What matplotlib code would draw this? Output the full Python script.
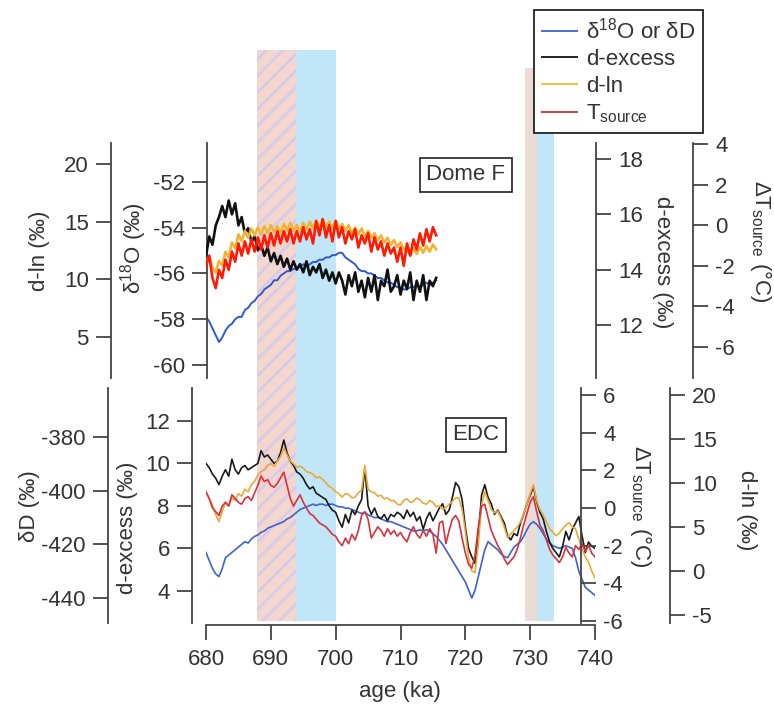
import matplotlib
matplotlib.use("Agg")
import matplotlib.pyplot as plt
from matplotlib.lines import Line2D

plt.rcParams['font.family'] = ['Liberation Sans', 'DejaVu Sans']
plt.rcParams['mathtext.fontset'] = 'custom'
plt.rcParams['mathtext.rm'] = 'Liberation Sans'
plt.rcParams['mathtext.it'] = 'Liberation Sans'
plt.rcParams['axes.unicode_minus'] = False
plt.rcParams['hatch.linewidth'] = 2.0

# ---- Dome F (upper panel), ages in ka
domef_age = [680.0, 680.5, 681.0, 681.5, 682.0, 682.5, 683.0, 683.5, 684.0, 684.5,
             685.0, 685.5, 686.0, 686.5, 687.0, 687.5, 688.0, 688.5, 689.0, 689.5,
             690.0, 690.5, 691.0, 691.5, 692.0, 692.5, 693.0, 693.5, 694.0, 694.5,
             695.0, 695.5, 696.0, 696.5, 697.0, 697.5, 698.0, 698.5, 699.0, 699.5,
             700.0, 700.5, 701.0, 701.5, 702.0, 702.5, 703.0, 703.5, 704.0, 704.5,
             705.0, 705.5, 706.0, 706.5, 707.0, 707.5, 708.0, 708.5, 709.0, 709.5,
             710.0, 710.5, 711.0, 711.5, 712.0, 712.5, 713.0, 713.5, 714.0, 714.5,
             715.0, 715.5]
domef_d18o = [-57.9, -58.1, -58.4, -58.7, -59.0, -58.8, -58.5, -58.3, -58.2, -58.0,
              -57.9, -57.9, -57.6, -57.5, -57.3, -57.2, -57.0, -56.9, -56.7, -56.6,
              -56.5, -56.3, -56.3, -56.1, -56.0, -55.9, -55.9, -55.8, -55.8, -55.7,
              -55.6, -55.7, -55.6, -55.5, -55.5, -55.4, -55.4, -55.3, -55.3, -55.2,
              -55.2, -55.1, -55.1, -55.3, -55.4, -55.5, -55.6, -55.8, -55.9, -55.9,
              -56.0, -56.0, -56.1, -56.2, -56.2, -56.3, -56.4, -56.4, -56.5, -56.6,
              -56.6, -56.7, -56.7, -56.6, -56.6, -56.5, -56.6, -56.5, -56.4, -56.5,
              -56.4, -56.3]
domef_dexcess = [14.5, 15.2, 14.9, 15.6, 15.9, 16.3, 15.9, 16.5, 16.0, 16.4,
                 15.6, 15.9, 15.3, 15.5, 15.0, 15.2, 14.7, 14.9, 14.5, 14.8,
                 14.3, 14.6, 14.2, 14.5, 14.1, 14.4, 14.0, 14.3, 14.0, 14.2,
                 13.9, 14.3, 13.8, 14.1, 13.9, 14.2, 13.7, 14.0, 13.6, 13.9,
                 13.5, 13.9, 13.6, 13.1, 13.8, 13.4, 13.9, 13.2, 13.6, 13.0,
                 13.7, 13.2, 13.8, 12.9, 13.6, 13.4, 14.0, 13.2, 13.4, 13.8,
                 13.1, 13.6, 13.3, 13.9, 12.9, 13.6, 13.2, 13.8, 12.9, 13.6,
                 13.4, 13.7]
domef_dln = [11.3, 12.0, 11.0, 10.6, 11.6, 11.2, 12.4, 11.9, 13.2, 12.7,
             13.9, 13.3, 14.2, 13.6, 14.4, 13.8, 14.5, 13.9, 14.6, 14.0,
             14.7, 14.1, 14.6, 14.0, 14.8, 14.2, 14.9, 14.2, 14.7, 14.1,
             14.9, 14.3, 15.0, 14.4, 15.1, 14.5, 15.2, 14.5, 15.0, 14.4,
             15.1, 14.4, 14.8, 14.2, 14.7, 14.0, 14.5, 13.9, 14.4, 13.7,
             14.2, 13.6, 14.0, 13.4, 13.8, 13.2, 13.6, 13.0, 13.4, 12.8,
             13.2, 12.6, 12.6, 12.1, 12.7, 12.2, 12.8, 12.3, 12.9, 12.4,
             13.0, 12.6]
domef_tsource = [-2.0, -1.5, -2.6, -3.1, -2.2, -2.6, -1.7, -2.2, -1.3, -1.8,
                 -0.9, -1.5, -0.8, -1.4, -0.7, -1.3, -0.6, -1.2, -0.5, -1.1,
                 -0.4, -1.0, -0.3, -0.9, -0.3, -0.8, -0.2, -0.9, -0.3, -0.8,
                 -0.1, -0.7, -0.2, -0.9, 0.2, -0.5, 0.3, -0.6, 0.0, -0.8,
                 0.2, -0.6, -0.1, -0.9, -0.3, -0.7, -0.2, -1.1, -0.5, -0.9,
                 -0.4, -1.3, -0.6, -1.2, -0.8, -1.5, -0.9, -1.4, -1.1, -1.8,
                 -1.1, -2.0, -0.9, -1.5, -0.7, -1.2, -0.4, -1.0, -0.2, -0.8,
                 -0.1, -0.5]

# ---- EDC (lower panel)
edc_age = [680.0, 680.5, 681.0, 681.5, 682.0, 682.5, 683.0, 683.5, 684.0, 684.5,
           685.0, 685.5, 686.0, 686.5, 687.0, 687.5, 688.0, 688.5, 689.0, 689.5,
           690.0, 690.5, 691.0, 691.5, 692.0, 692.5, 693.0, 693.5, 694.0, 694.5,
           695.0, 695.5, 696.0, 696.5, 697.0, 697.5, 698.0, 698.5, 699.0, 699.5,
           700.0, 700.5, 701.0, 701.5, 702.0, 702.5, 703.0, 703.5, 704.0, 704.5,
           705.0, 705.5, 706.0, 706.5, 707.0, 707.5, 708.0, 708.5, 709.0, 709.5,
           710.0, 710.5, 711.0, 711.5, 712.0, 712.5, 713.0, 713.5, 714.0, 714.5,
           715.0, 715.5, 716.0, 716.5, 717.0, 717.5, 718.0, 718.5, 719.0, 719.5,
           720.0, 720.5, 721.0, 721.5, 722.0, 722.5, 723.0, 723.5, 724.0, 724.5,
           725.0, 725.5, 726.0, 726.5, 727.0, 727.5, 728.0, 728.5, 729.0, 729.5,
           730.0, 730.5, 731.0, 731.5, 732.0, 732.5, 733.0, 733.5, 734.0, 734.5,
           735.0, 735.5, 736.0, 736.5, 737.0, 737.5, 738.0, 738.5, 739.0, 739.5,
           740.0]
edc_dd = [-423, -426, -429, -431, -432, -429, -425, -424, -423, -422,
          -421, -420, -419, -419.5, -418, -417, -416.5, -415.5, -415, -414,
          -413.5, -413, -412.5, -412, -411.5, -410.5, -410, -409, -408, -407,
          -406.5, -406, -405.5, -405, -405.5, -405, -405, -405.5, -405, -405,
          -405.5, -406, -406, -406.5, -406.5, -407, -407.5, -408, -408.5, -408,
          -409, -409.5, -410, -410, -410.5, -411, -411.5, -411.5, -412, -412.5,
          -413, -413.5, -414, -414.5, -415, -415, -414.5, -415, -414.5, -415,
          -416, -417, -418.5, -420, -422, -424, -426, -428, -430, -432,
          -434, -437, -440, -437, -432, -427, -422, -419, -420, -421,
          -422, -423.5, -424.5, -425, -423, -421, -420, -419, -417, -414.5,
          -412.5, -411.5, -412.5, -414, -416, -418, -419.5, -420.5, -421, -421.5,
          -421, -420.5, -421, -421.5, -425, -430, -433, -436, -437, -438,
          -439]
edc_dexcess = [10.0, 9.8, 9.5, 9.3, 9.0, 9.4, 9.7, 9.4, 10.2, 9.7,
               9.5, 9.8, 9.9, 9.7, 9.8, 9.9, 10.0, 10.6, 10.3, 10.4,
               10.2, 10.0, 10.1, 10.5, 11.1, 10.5, 10.1, 9.9, 9.6, 9.5,
               9.3, 9.0, 8.8, 8.9, 8.6, 8.5, 8.4, 8.3, 8.0, 7.8,
               7.7, 7.3, 7.0, 7.6, 7.2, 7.8, 7.6, 8.0, 8.3, 9.8,
               8.0, 7.6, 7.9, 7.5, 7.4, 7.6, 7.3, 7.6, 7.5, 7.7,
               7.6, 7.4, 7.8, 7.5, 7.7, 7.3, 7.5, 6.9, 7.4, 7.7,
               7.3, 7.6, 7.9, 8.1, 7.6, 7.8, 8.4, 9.1, 8.9, 8.3,
               7.0, 6.0, 5.6, 5.3, 6.5, 8.5, 9.0, 8.4, 8.1, 7.6,
               7.8, 7.5, 7.2, 6.6, 6.4, 6.7, 6.6, 7.2, 7.6, 8.1,
               8.5, 8.9, 8.2, 7.7, 7.4, 6.8, 6.3, 6.0, 5.8, 5.6,
               6.1, 6.8, 6.4, 6.9, 7.2, 7.5, 6.6, 5.8, 6.3, 6.1,
               6.0]
edc_dln = [9.0, 8.2, 7.5, 6.4, 5.6, 6.8, 7.8, 7.4, 8.3, 8.0,
           8.8, 8.5, 9.3, 9.0, 9.8, 10.2, 10.9, 11.3, 11.5, 12.0,
           12.2, 11.9, 12.5, 13.0, 14.0, 13.2, 12.5, 12.2, 11.8, 11.9,
           11.7, 11.3, 11.2, 11.0, 10.6, 10.7, 10.4, 10.0, 9.6, 9.4,
           9.0, 8.8, 8.4, 8.8, 8.7, 8.3, 8.4, 8.9, 9.2, 12.0,
           9.3, 9.0, 8.9, 8.5, 8.6, 8.2, 8.3, 8.0, 8.0, 7.6,
           7.5, 8.0, 8.2, 7.8, 7.9, 8.3, 8.1, 7.7, 7.6, 8.0,
           7.8, 7.3, 7.4, 7.0, 7.2, 7.6, 7.9, 8.3, 8.3, 7.0,
           4.5, 1.5, 0.0, -0.2, 3.0, 7.5, 9.0, 8.0, 7.0, 6.6,
           6.8, 6.0, 5.0, 3.8, 4.2, 4.6, 5.0, 5.6, 6.5, 7.6,
           8.8, 9.8, 8.0, 7.0, 6.4, 5.6, 4.8, 4.4, 4.0, 4.3,
           4.8, 5.2, 5.5, 5.0, 4.8, 3.6, 2.5, 1.6, 1.0, 0.0,
           -0.8]
edc_tsource = [0.85, 0.5, 0.0, -0.2, -0.4, 0.1, 0.3, 0.1, 0.7, 0.5,
               0.3, 0.2, 0.5, 0.6, 0.4, 0.8, 1.2, 1.7, 1.4, 1.5,
               1.2, 1.1, 1.3, 1.6, 1.9, 1.2, 0.5, 0.1, 0.4, 0.7,
               0.3, 0.0, -0.3, -0.4, -0.6, -0.8, -0.9, -1.0, -1.2, -1.4,
               -1.5, -1.8, -2.0, -1.6, -1.9, -1.4, -1.7, -1.2, -0.4, -0.2,
               -0.6, -1.6, -1.3, -1.0, -1.2, -1.5, -1.1, -1.4, -1.2, -1.5,
               -1.3, -1.6, -1.8, -1.3, -1.0, -1.4, -1.6, -1.2, -1.5, -1.1,
               -1.4, -2.4, -0.8, -0.7, -1.9, -1.2, -0.6, -0.4, -0.7, -1.6,
               -2.4, -3.0, -3.2, -2.5, -1.0, 0.1, 0.2, -0.5, -1.2, -1.6,
               -2.0, -2.3, -2.7, -3.0, -2.8, -2.6, -2.2, -1.6, -0.9, -0.3,
               0.3, 0.6, -0.2, -0.9, -1.2, -1.7, -2.2, -2.5, -2.7, -2.9,
               -2.6, -2.1, -2.4, -2.6, -2.0, -2.2, -1.9, -2.3, -2.0, -2.4,
               -2.6]

# shaded intervals (ka)
hatch_band = (687.8, 693.9)
blue_band_1 = (693.9, 700.1)
tan_band = (729.2, 731.0)
blue_band_2 = (731.0, 733.6)

age_ticks = [680, 690, 700, 710, 720, 730, 740]

W, H = 774, 705
FS = 16
AXC = '#444444'
X0, X1 = 206, 595

BLUE = '#2f5bd0'
BLACK = '#111111'
ORANGE = '#f2b335'
RED_TOP = '#ff1a00'
RED = '#d8323f'

fig = plt.figure(figsize=(W / 100, H / 100), dpi=100)


def rect(top, bottom):
    return [X0 / W, 1 - bottom / H, (X1 - X0) / W, (bottom - top) / H]


def yaxis(r, ylim, spine_x, side, ticks, z):
    ax = fig.add_axes(r, zorder=z)
    ax.patch.set_visible(False)
    ax.set_xlim(680, 740)
    ax.set_ylim(*ylim)
    for s in ax.spines.values():
        s.set_visible(False)
    sp = ax.spines[side]
    sp.set_visible(True)
    sp.set_position(('axes', (spine_x - X0) / (X1 - X0)))
    sp.set_color(AXC)
    sp.set_linewidth(1.3)
    ax.yaxis.set_ticks_position(side)
    ax.set_yticks(ticks)
    ax.tick_params(axis='y', direction='out', length=11, width=1.3, color=AXC,
                   labelsize=FS, labelcolor='#333333', pad=5)
    ax.tick_params(axis='x', bottom=False, labelbottom=False)
    return ax


# background shading
bg = fig.add_axes([X0 / W, 0, (X1 - X0) / W, 1], zorder=0)
bg.set_xlim(680, 740)
bg.axis('off')
y_lo, y_hi, y_hi2 = 1 - 621 / H, 1 - 50 / H, 1 - 68 / H
bg.axvspan(*hatch_band, y_lo, y_hi, facecolor='#f4d6ce', edgecolor='#d3cdea',
           hatch='//', linewidth=0)
bg.axvspan(*blue_band_1, y_lo, y_hi, facecolor='#c0e6f8', linewidth=0)
bg.axvspan(*tan_band, y_lo, y_hi2, facecolor='#eadbd5', linewidth=0)
bg.axvspan(*blue_band_2, y_lo, y_hi2, facecolor='#c0e6f8', linewidth=0)

# upper panel: Dome F
top_r = rect(143, 378)
a1 = yaxis(top_r, (-60.57, -50.30), 207, 'left', [-60, -58, -56, -54, -52], 1)
a1.plot(domef_age, domef_d18o, color=BLUE, lw=1.4)
a2 = yaxis(top_r, (10.08, 18.58), 596, 'right', [12, 14, 16, 18], 2)
a2.plot(domef_age, domef_dexcess, color=BLACK, lw=1.9)
a3 = yaxis(top_r, (1.44, 21.82), 111, 'left', [5, 10, 15, 20], 3)
a3.plot(domef_age, domef_dln, color=ORANGE, lw=1.9)
a4 = yaxis(top_r, (-7.53, 4.05), 693, 'right', [-6, -4, -2, 0, 2, 4], 4)
a4.plot(domef_age, domef_tsource, color=RED_TOP, lw=1.9)

# lower panel: EDC
low_r = rect(388, 623)
b1 = yaxis(low_r, (-449.3, -361.7), 108, 'left', [-440, -420, -400, -380], 1)
b1.plot(edc_age, edc_dd, color='#3f63c8', lw=1.2)
b2 = yaxis(low_r, (2.49, 13.55), 192, 'left', [4, 6, 8, 10, 12], 2)
b2.plot(edc_age, edc_dexcess, color='#1a1a1a', lw=1.2)
b3 = yaxis(low_r, (-5.91, 20.8), 670, 'right', [-5, 0, 5, 10, 15, 20], 3)
b3.plot(edc_age, edc_dln, color='#eba93a', lw=1.2)
b4 = yaxis(low_r, (-6.11, 6.37), 581, 'right', [-6, -4, -2, 0, 2, 4, 6], 4)
b4.plot(edc_age, edc_tsource, color=RED, lw=1.2)

# shared age axis
xa = fig.add_axes(low_r, zorder=5)
xa.patch.set_visible(False)
xa.set_xlim(680, 740)
for k in ['left', 'right', 'top']:
    xa.spines[k].set_visible(False)
xa.spines['bottom'].set_position(('outward', 1.5))
xa.spines['bottom'].set_color(AXC)
xa.spines['bottom'].set_linewidth(1.3)
xa.yaxis.set_visible(False)
xa.set_xticks(age_ticks)
xa.tick_params(axis='x', direction='out', length=11, width=1.3, color=AXC,
               labelsize=FS, labelcolor='#333333', pad=6)


def ftext(x, y, s, rot=0, **kw):
    return fig.text(x / W, 1 - y / H, s, rotation=rot, ha='center', va='center',
                    fontsize=FS, color='#333333', **kw)


ftext(400, 692, 'age (ka)')
ftext(39, 251, 'd-ln (‰)', 90)
ftext(134, 248, 'δ$^{18}$O (‰)', 90)
ftext(663, 262, 'd-excess (‰)', 270)
ftext(761, 241, 'ΔT$_{\\mathrm{source}}$ (°C)', 270)
ftext(29, 506, 'δD (‰)', 90)
ftext(128, 528, 'd-excess (‰)', 90)
ftext(641, 506, 'ΔT$_{\\mathrm{source}}$ (°C)', 270)
ftext(747, 510, 'd-ln (‰)', 270)

box = dict(boxstyle='square,pad=0.3', facecolor='white', edgecolor='#333333', linewidth=1.3)
ftext(466, 175, 'Dome F', bbox=box, zorder=10)
ftext(476, 435, 'EDC', bbox=box, zorder=10)

handles = [Line2D([], [], color='#4a6bd0', lw=1.4),
           Line2D([], [], color='#222222', lw=1.4),
           Line2D([], [], color='#f0c040', lw=1.4),
           Line2D([], [], color='#cc4050', lw=1.4)]
labels = ['δ$^{18}$O or δD', 'd-excess', 'd-ln', 'T$_{\\mathrm{source}}$']
leg = fig.legend(handles, labels, loc='upper left', bbox_to_anchor=(534 / W, 1 - 10 / H),
                 borderaxespad=0, fancybox=False, framealpha=1, edgecolor='#222222',
                 fontsize=FS, handlelength=1.6, handletextpad=0.4, labelspacing=0.25,
                 borderpad=0.35)
leg.get_frame().set_linewidth(1.3)
leg.set_zorder(10)
for t in leg.get_texts():
    t.set_color('#333333')

fig.savefig('out.png', dpi=100, facecolor='white')
